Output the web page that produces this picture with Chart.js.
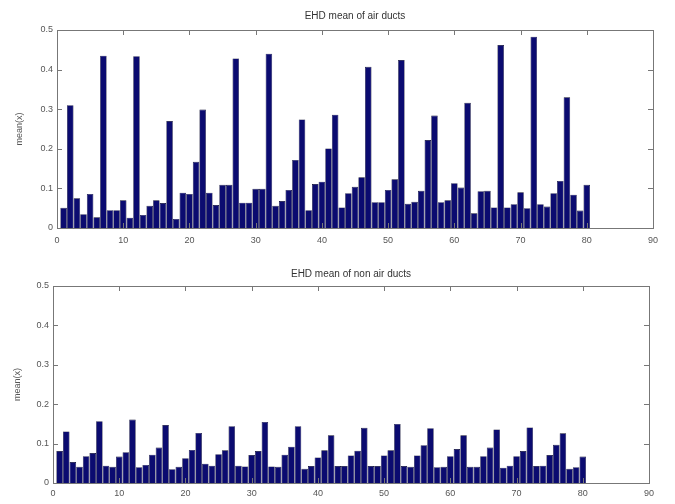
<!DOCTYPE html>
<html>
<head>
<meta charset="utf-8">
<script src="https://cdn.jsdelivr.net/npm/chart.js@4"></script>
<style>
  body { margin: 0; background: #fff; }
  .box { position: absolute; left: 0; width: 675px; height: 252px; }
</style>
</head>
<body>
<div class="box" style="top:0"><canvas id="airChart"></canvas></div>
<div class="box" style="top:252px"><canvas id="nonAirChart"></canvas></div>
<script>
// EHD mean per bin (bins 1..80)
const airMeans = [
  0.051, 0.31, 0.075, 0.035, 0.086, 0.027, 0.435, 0.045, 0.045, 0.07,
  0.026, 0.434, 0.033, 0.056, 0.07, 0.063, 0.27, 0.023, 0.089, 0.086,
  0.167, 0.299, 0.089, 0.058, 0.109, 0.109, 0.428, 0.064, 0.064, 0.099,
  0.099, 0.44, 0.056, 0.068, 0.096, 0.172, 0.274, 0.045, 0.111, 0.117,
  0.201, 0.286, 0.052, 0.088, 0.104, 0.128, 0.407, 0.065, 0.065, 0.096,
  0.123, 0.424, 0.061, 0.066, 0.094, 0.222, 0.284, 0.065, 0.07, 0.113,
  0.102, 0.316, 0.037, 0.093, 0.094, 0.052, 0.462, 0.052, 0.06, 0.09,
  0.05, 0.483, 0.06, 0.054, 0.088, 0.119, 0.33, 0.084, 0.044, 0.109
];
const nonAirMeans = [
  0.081, 0.131, 0.053, 0.041, 0.068, 0.076, 0.157, 0.044, 0.041, 0.067,
  0.078, 0.161, 0.04, 0.046, 0.072, 0.09, 0.147, 0.035, 0.041, 0.063,
  0.084, 0.127, 0.049, 0.044, 0.073, 0.083, 0.144, 0.044, 0.042, 0.071,
  0.081, 0.155, 0.042, 0.041, 0.072, 0.092, 0.144, 0.036, 0.043, 0.065,
  0.083, 0.121, 0.043, 0.043, 0.07, 0.082, 0.14, 0.043, 0.043, 0.07,
  0.083, 0.15, 0.043, 0.041, 0.07, 0.096, 0.139, 0.04, 0.041, 0.068,
  0.086, 0.121, 0.041, 0.041, 0.068, 0.09, 0.136, 0.039, 0.044, 0.068,
  0.081, 0.141, 0.043, 0.044, 0.071, 0.097, 0.126, 0.036, 0.04, 0.067
];
const xTicks = [0, 10, 20, 30, 40, 50, 60, 70, 80, 90];
const yTicks = [0, 0.1, 0.2, 0.3, 0.4, 0.5];

const font = { family: '"Liberation Sans", Arial, sans-serif', size: 9 };
const textColor = '#555';
const axisColor = '#777';

// matlab style inward tick marks on all four sides
const innerTicks = {
  id: 'innerTicks',
  afterDraw(chart) {
    const { ctx, chartArea: a, scales } = chart;
    ctx.save();
    ctx.strokeStyle = axisColor;
    ctx.lineWidth = 1;
    ctx.beginPath();
    xTicks.forEach(v => {
      const x = Math.round(scales.x.getPixelForValue(v)) + 0.5;
      ctx.moveTo(x, a.bottom); ctx.lineTo(x, a.bottom - 5);
      ctx.moveTo(x, a.top); ctx.lineTo(x, a.top + 5);
    });
    yTicks.forEach(v => {
      const y = Math.round(scales.y.getPixelForValue(v)) + 0.5;
      ctx.moveTo(a.left, y); ctx.lineTo(a.left + 5, y);
      ctx.moveTo(a.right, y); ctx.lineTo(a.right - 5, y);
    });
    ctx.stroke();
    ctx.strokeRect(a.left + 0.5, a.top + 0.5, a.right - a.left, a.bottom - a.top);
    ctx.restore();
  }
};

function makeChart(id, title, values, cfg) {
  const ctx = document.getElementById(id).getContext('2d');
  return new Chart(ctx, {
    type: 'bar',
    data: {
      datasets: [{
        data: values.map((v, i) => ({ x: i + 1, y: v })),
        backgroundColor: '#0b0b70',
        borderColor: '#04042a',
        borderWidth: 0.6,
        barPercentage: 1,
        categoryPercentage: 0.985
      }]
    },
    options: {
      responsive: true,
      maintainAspectRatio: false,
      animation: false,
      layout: { padding: { left: 0, right: cfg.right, top: 0, bottom: 0 } },
      plugins: {
        legend: { display: false },
        tooltip: { enabled: false },
        title: {
          display: true,
          text: title,
          fullSize: false,
          color: '#333',
          font: { family: font.family, size: 10, weight: 'normal' },
          padding: cfg.titlePad
        }
      },
      scales: {
        x: {
          type: 'linear',
          offset: false,
          min: 0, max: 90,
          afterBuildTicks: s => { s.ticks = xTicks.map(v => ({ value: v })); },
          afterFit: s => { s.height = cfg.xHeight; },
          grid: { display: false, drawTicks: false, offset: false },
          border: { display: false },
          ticks: { color: textColor, font, padding: cfg.xPad, maxRotation: 0 }
        },
        y: {
          min: 0, max: 0.5,
          afterBuildTicks: s => { s.ticks = yTicks.map(v => ({ value: v })); },
          afterFit: s => { s.width = cfg.left; },
          grid: { display: false, drawTicks: false },
          border: { display: false },
          ticks: { color: textColor, font, padding: 4, callback: v => String(v) },
          title: {
            display: true, text: 'mean(x)', color: textColor, font,
            padding: { top: cfg.yTitlePad, bottom: 0 }
          }
        }
      }
    },
    plugins: [innerTicks]
  });
}

makeChart('airChart', 'EHD mean of air ducts', airMeans,
  { right: 22, left: 57, xHeight: 24, xPad: 7, titlePad: { top: 10, bottom: 8 }, yTitlePad: 14 });
makeChart('nonAirChart', 'EHD mean of non air ducts', nonAirMeans,
  { right: 26, left: 53, xHeight: 21, xPad: 5, titlePad: { top: 16, bottom: 6 }, yTitlePad: 12 });
</script>
</body>
</html>
